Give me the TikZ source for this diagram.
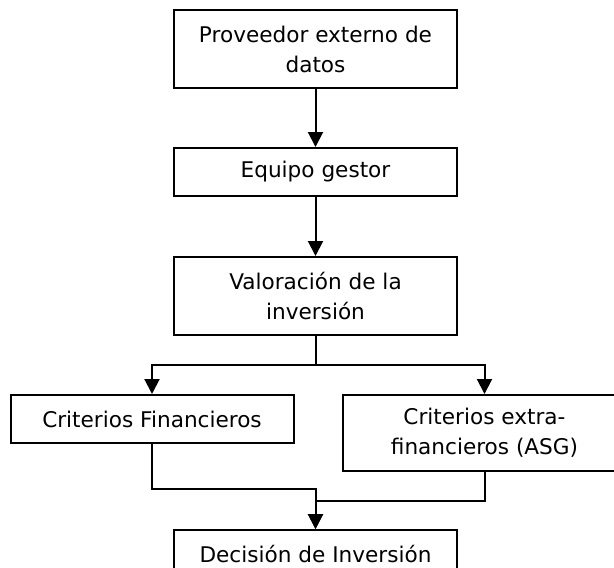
\documentclass[tikz,border=0pt]{standalone}
\usepackage{fontspec}
\setmainfont{DejaVu Sans}
\usetikzlibrary{arrows.meta,positioning}
\tikzset{%
    >={Triangle[width=15pt,length=15pt]},
    box/.style={draw,line width=2pt,minimum width=283pt,minimum height=48pt,
        align=center,inner sep=0pt,font=\fontsize{21.6}{30}\selectfont},
    tall/.style={minimum height=78pt},
    conn/.style={->,line width=2pt}
}

\begin{document}
\begin{tikzpicture}[x=1pt,y=-1pt,node distance=58pt]
            \useasboundingbox (0,0) rectangle (614,568);
            \node [box,tall] (prov) at (315.5,49) {Proveedor externo de\\datos};
            \node [box,below= of prov] (equipo) {Equipo gestor};
            \node [box,tall,below=59pt of equipo] (valor) {Valoración de la\\inversión};
            \node [box,below left=58pt and 21pt of valor.south] (crifin) {Criterios Financieros};
            \node [box,minimum height=76pt,below right=58pt and 26.5pt of valor.south] (criextra)
            {Criterios extra-\\financieros (ASG)};
            \node [box,below=193pt of valor] (decision) {Decisión de Inversión};
            %%%%%
            \draw[conn] (prov) -- (equipo);
            \draw[conn] (equipo) -- (valor);
            \draw[conn] (valor.south) -- ++(0,29) -| (crifin.north);
            \draw[conn] (valor.south) -- ++(0,29) -| (criextra.north);
            \draw[conn] (crifin.south) -- ++(0,45) -| (decision.north);
            \draw[conn] (criextra.south) -- ++(0,29) -| (decision.north);
\end{tikzpicture}
\end{document}
